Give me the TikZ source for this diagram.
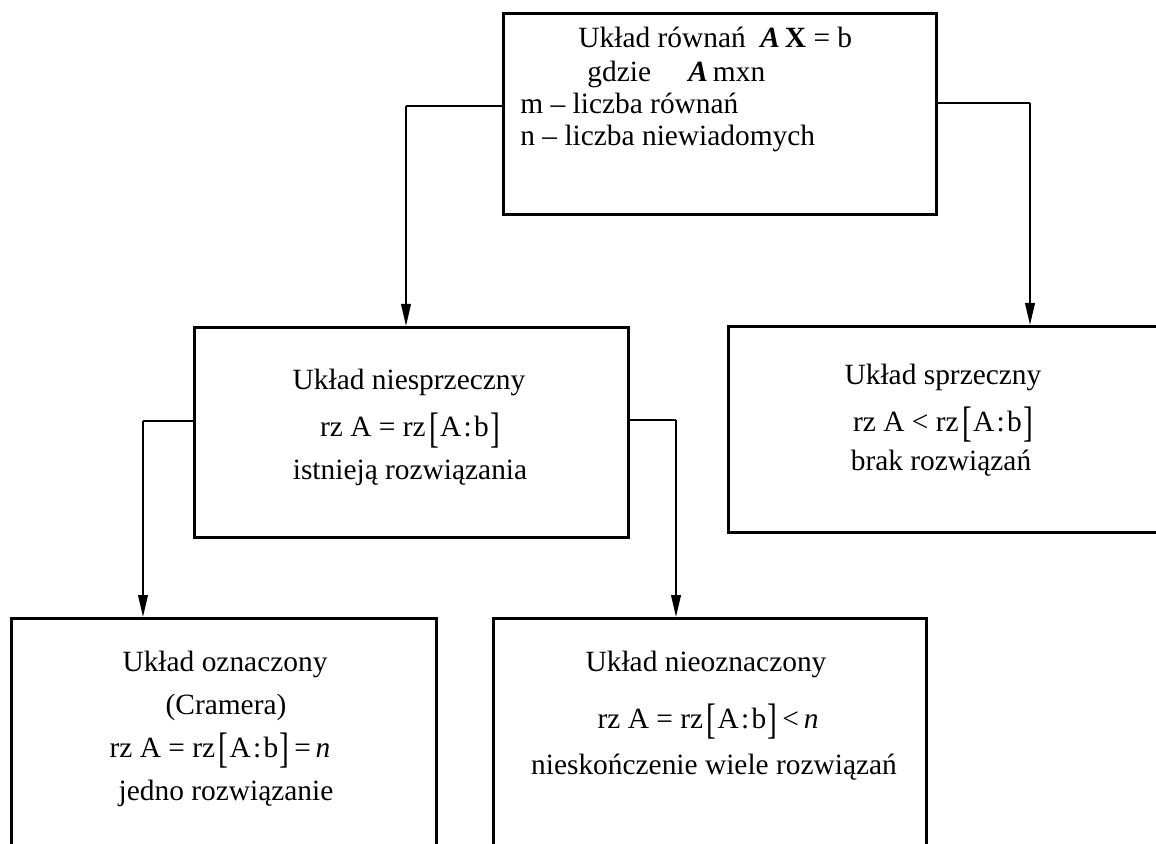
\documentclass[tikz,border=0pt]{standalone}
\usepackage{fontspec}
\usepackage{graphicx}
\setmainfont{Liberation Serif}
\usetikzlibrary{arrows.meta}

% tall square brackets around the augmented matrix
\newcommand{\tallbr}[1]{\raisebox{-0.2em}{\scalebox{1}[1.45]{#1}}}
\newcommand{\aug}{\kern0.12em\tallbr{[}\kern0.04em A\kern0.08em:\kern0.08em b\kern0.04em\tallbr{]}}

\tikzset{
  box/.style={draw, line width=1.3pt, anchor=north west, inner sep=0pt},
  txt/.style={anchor=base, inner sep=0pt, font=\fontsize{14.7pt}{17pt}\selectfont},
  txtl/.style={txt, anchor=base west},
  link/.style={line width=1pt},
  arr/.style={line width=1pt, -{Triangle[length=11pt,width=4.8pt]}},
}

\begin{document}
\begin{tikzpicture}[x=0.5pt, y=-0.5pt]
  \useasboundingbox[fill=white] (0,0) rectangle (1156,844);

  % boxes
  \node[box, minimum width=216.5pt, minimum height=100.5pt] (top) at (502,12) {};
  \node[box, minimum width=217pt, minimum height=105pt] (mid) at (193,326) {};
  \node[box, minimum width=225pt, minimum height=103pt] (sprz) at (727,325) {};
  \node[box, minimum width=212.5pt, minimum height=130pt] (ozn) at (10,617) {};
  \node[box, minimum width=216.5pt, minimum height=130pt] (nieozn) at (492,617) {};

  % texts of the top box
  \node[txtl] (t1) at (578,48) {Układ równań\enspace \textbf{\textit{A}}\,\textbf{X} = b};
  \node[txtl] (t2) at (587,82) {gdzie\hspace{15pt} \textbf{\textit{A}}\,mxn};
  \node[txtl] (t3) at (520,114) {m – liczba równań};
  \node[txtl] (t4) at (520,146) {n – liczba niewiadomych};

  % texts of the consistent system box
  \node[txt] (m1) at (409,390) {Układ niesprzeczny};
  \node[txt] (m2) at (410,437) {rz A = rz\aug};
  \node[txt] (m3) at (410,479) {istnieją rozwiązania};

  % texts of the inconsistent system box
  \node[txt] (s1) at (943,385) {Układ sprzeczny};
  \node[txt] (s2) at (943,431) {rz A < rz\aug};
  \node[txt] (s3) at (941,470) {brak rozwiązań};

  % texts of the determined system box
  \node[txt] (o1) at (225,671) {Układ oznaczony};
  \node[txt] (o2) at (226,714) {(Cramera)};
  \node[txt] (o3) at (220,757) {rz A = rz\aug\,=\,\textit{n}};
  \node[txt] (o4) at (226,800) {jedno rozwiązanie};

  % texts of the undetermined system box
  \node[txt] (n1) at (706,671) {Układ nieoznaczony};
  \node[txt] (n2) at (708,728) {rz A = rz\aug\,<\,\textit{n}};
  \node[txt] (n3) at (714,774) {nieskończenie wiele rozwiązań};

  % connectors
  \coordinate (ltop) at (406,106);
  \coordinate (rtop) at (1030,103);
  \coordinate (lmid) at (143,421);
  \coordinate (rmid) at (676,420);

  \draw[link] (top.west |- ltop) -- (ltop);
  \draw[arr] (ltop) -- (ltop |- mid.north);
  \draw[link] (top.east |- rtop) -- (rtop);
  \draw[arr] (rtop) -- (rtop |- sprz.north);
  \draw[link] (mid.west |- lmid) -- (lmid);
  \draw[arr] (lmid) -- (lmid |- ozn.north);
  \draw[link] (mid.east |- rmid) -- (rmid);
  \draw[arr] (rmid) -- (rmid |- nieozn.north);
\end{tikzpicture}
\end{document}
